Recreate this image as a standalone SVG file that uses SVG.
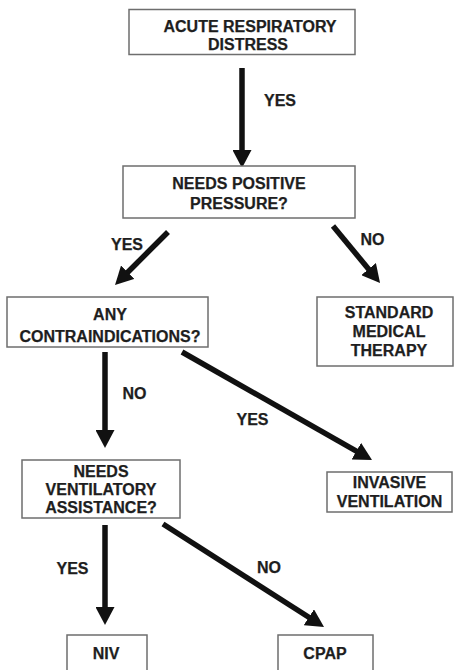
<svg xmlns="http://www.w3.org/2000/svg" width="454" height="670" viewBox="0 0 454 670">
<style>
.box{fill:#fff;stroke:#6e6e6e;stroke-width:1.5}
.t{font-family:"Liberation Sans",Arial,sans-serif;font-weight:bold;font-size:16px;fill:#1e1e1e;stroke:#1e1e1e;stroke-width:0.25;text-anchor:middle}
.a{stroke:#111;stroke-width:5.5;fill:none;marker-end:url(#ah)}
</style>
<defs>
<marker id="ah" markerUnits="userSpaceOnUse" viewBox="0 0 18 19" markerWidth="18" markerHeight="19" refX="6" refY="9.5" orient="auto">
<path d="M0,0 L18,9.5 L0,19 z" fill="#111"/>
</marker>
</defs>
<rect width="454" height="670" fill="#fff"/>
<g id="connectors">
<line class="a" x1="242" y1="68" x2="242" y2="156"/>
<line class="a" x1="168" y1="232" x2="123.5" y2="276.5"/>
<line class="a" x1="333" y1="226" x2="372.4" y2="273.7"/>
<line class="a" x1="105" y1="352" x2="105" y2="436"/>
<line class="a" x1="182" y1="352" x2="361.6" y2="454.1"/>
<line class="a" x1="105" y1="525" x2="105" y2="613"/>
<line class="a" x1="163" y1="524" x2="313.9" y2="620.5"/>
<text class="t" x="280" y="105.5">YES</text>
<text class="t" x="127" y="249.5">YES</text>
<text class="t" x="372.5" y="244.5">NO</text>
<text class="t" x="134.5" y="398.5">NO</text>
<text class="t" x="252.5" y="424.5">YES</text>
<text class="t" x="72.5" y="573.5">YES</text>
<text class="t" x="269" y="572.5">NO</text>
</g>
<g id="n1">
<rect class="box" x="129" y="9.5" width="226" height="45"/>
<text class="t" x="250" y="31.5">ACUTE RESPIRATORY</text>
<text class="t" x="248" y="50">DISTRESS</text>
</g>
<g id="n2">
<rect class="box" x="123" y="166" width="232" height="52"/>
<text class="t" x="239" y="188.5">NEEDS POSITIVE</text>
<text class="t" x="239" y="208.5">PRESSURE?</text>
</g>
<g id="n3">
<rect class="box" x="7" y="297" width="201" height="50"/>
<text class="t" x="110" y="319.5">ANY</text>
<text class="t" x="110" y="341.5">CONTRAINDICATIONS?</text>
</g>
<g id="n4">
<rect class="box" x="317" y="297" width="136" height="69"/>
<text class="t" x="389" y="317.5">STANDARD</text>
<text class="t" x="389" y="336.5">MEDICAL</text>
<text class="t" x="389" y="355.5">THERAPY</text>
</g>
<g id="n5">
<rect class="box" x="22" y="460" width="158" height="58"/>
<text class="t" x="101" y="477">NEEDS</text>
<text class="t" x="101" y="495">VENTILATORY</text>
<text class="t" x="101" y="513">ASSISTANCE?</text>
</g>
<g id="n6">
<rect class="box" x="327" y="472" width="125" height="40"/>
<text class="t" x="389.5" y="488">INVASIVE</text>
<text class="t" x="389.5" y="507">VENTILATION</text>
</g>
<g id="n7">
<rect class="box" x="67" y="635" width="80" height="50"/>
<text class="t" x="106" y="659">NIV</text>
</g>
<g id="n8">
<rect class="box" x="278" y="635" width="95" height="50"/>
<text class="t" x="325" y="659">CPAP</text>
</g>
</svg>
